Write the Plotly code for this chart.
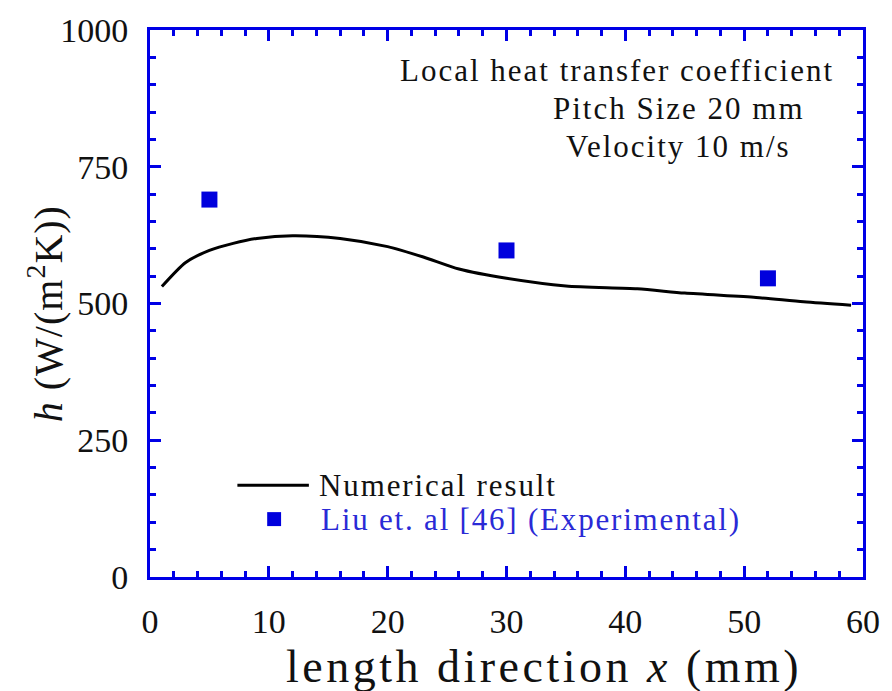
import plotly.graph_objects as go

# Numerical local heat transfer coefficient along the channel length
x_num = [1, 3, 5, 7, 9, 12, 16, 20, 23, 26, 30, 35, 41, 45, 51, 55, 59]
h_num = [531, 575, 597, 610, 619, 624, 619, 604, 585, 563, 546, 532, 527, 519, 511, 503, 497]

# Experimental points (Liu et al.)
x_exp = [5, 30, 52]
h_exp = [690, 597, 546]

x_ticks = [0, 10, 20, 30, 40, 50, 60]
y_ticks = [0, 250, 500, 750, 1000]

FONT = "Liberation Serif"
AXIS_BLUE = "#0000e6"
MARK_BLUE = "#0000dd"

fig = go.Figure()
fig.add_trace(go.Scatter(
    x=x_num, y=h_num, mode="lines",
    line=dict(color="black", width=3, shape="spline", smoothing=0.7),
    showlegend=False,
))
fig.add_trace(go.Scatter(
    x=x_exp, y=h_exp, mode="markers",
    marker=dict(symbol="square", size=16, color=MARK_BLUE),
    showlegend=False,
))

axis_common = dict(
    showline=True, linecolor=AXIS_BLUE, linewidth=3, mirror="ticks",
    ticks="inside", tickcolor=AXIS_BLUE, tickwidth=3, ticklen=11,
    showgrid=False, zeroline=False,
    tickfont=dict(family=FONT, size=34, color="#111"),
)

fig.update_xaxes(
    range=[0, 60], tickvals=x_ticks, ticktext=[str(v) for v in x_ticks],
    minor=dict(dtick=2, ticks="inside", ticklen=6, tickwidth=3,
               tickcolor=AXIS_BLUE, showgrid=False),
    ticklabelstandoff=12,
    **axis_common,
)
fig.update_yaxes(
    range=[0, 1000], tickvals=y_ticks, ticktext=[str(v) for v in y_ticks],
    minor=dict(dtick=50, ticks="inside", ticklen=6, tickwidth=3,
               tickcolor=AXIS_BLUE, showgrid=False),
    ticklabelstandoff=12,
    **axis_common,
)


def spaced(text, px):
    return f'<span style="letter-spacing:{px}px">{text}</span>'


annotations = [
    dict(text=spaced("length direction <i>x</i> (mm)", 3.5), x=547, y=667, size=46),
    dict(text=spaced("<i>h</i> (W/(m<sup>2</sup>K))", 1), x=45, y=313, size=40, textangle=-90),
    dict(text=spaced("Local heat transfer coefficient", 2.0), x=620, y=70, size=31),
    dict(text=spaced("Pitch Size 20 mm", 2.0), x=683, y=108, size=31),
    dict(text=spaced("Velocity 10 m/s", 2.0), x=682, y=146, size=31),
    dict(text=spaced("Numerical result", 1.9), x=318, y=485, size=31, anchor="left"),
    dict(text=spaced("Liu et. al [46] (Experimental)", 1.8), x=320, y=519, size=31,
         anchor="left", color="#2a2ad6"),
]

W, H = 892, 691
L, R, T, B = 150, 24, 29, 114
pw, ph = W - L - R, H - T - B


def px_to_paper(px, py):
    return (px - L) / pw, (H - B - py) / ph


for a in annotations:
    ax, ay = px_to_paper(a["x"], a["y"])
    fig.add_annotation(
        text=a["text"], x=ax, y=ay, xref="paper", yref="paper",
        showarrow=False, textangle=a.get("textangle", 0),
        xanchor=a.get("anchor", "center"), yanchor="middle",
        font=dict(family=FONT, size=a["size"], color=a.get("color", "#111")),
    )

# Legend keys
lx0, ly = px_to_paper(238, 485)
lx1, _ = px_to_paper(310, 485)
fig.add_shape(type="line", xref="paper", yref="paper",
              x0=lx0, x1=lx1, y0=ly, y1=ly, line=dict(color="black", width=3))
sx0, sy0 = px_to_paper(268, 526)
sx1, sy1 = px_to_paper(282, 512)
fig.add_shape(type="rect", xref="paper", yref="paper",
              x0=sx0, x1=sx1, y0=sy0, y1=sy1,
              line=dict(width=0), fillcolor=MARK_BLUE)

fig.update_layout(
    width=W, height=H,
    margin=dict(l=L, r=R, t=T, b=B),
    plot_bgcolor="white", paper_bgcolor="white",
    showlegend=False,
)

fig.write_html("out.html")
